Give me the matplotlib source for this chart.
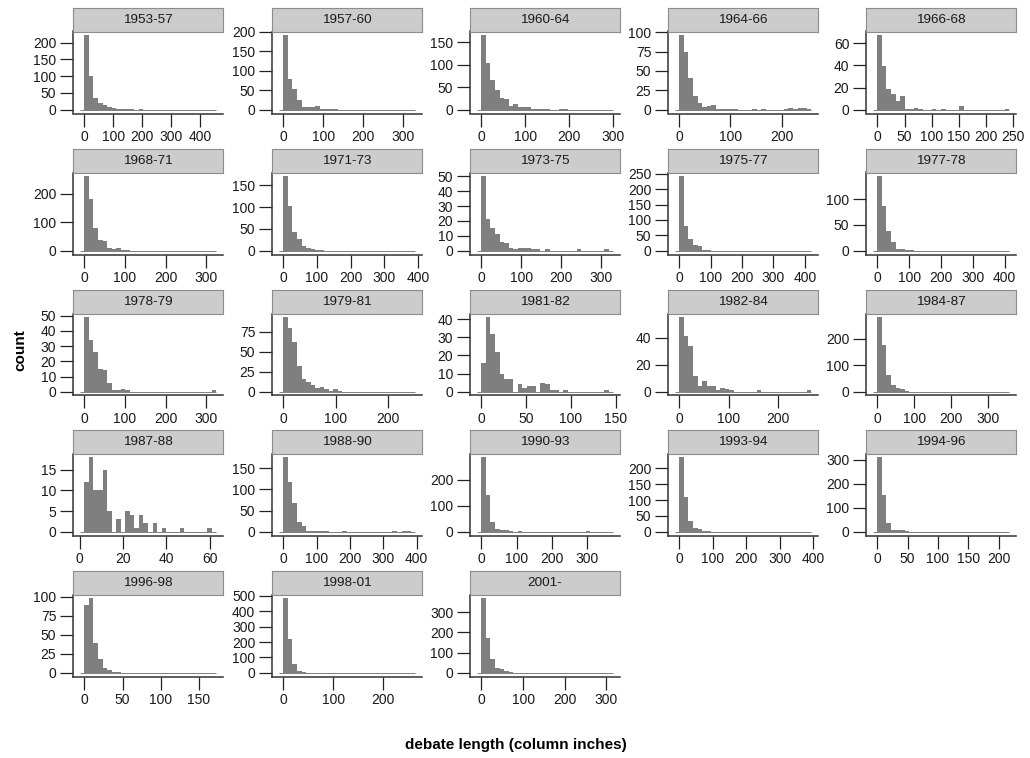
import numpy as np
import matplotlib
matplotlib.use("Agg")
import matplotlib.pyplot as plt

plt.rcParams['font.family'] = ['Liberation Sans', 'DejaVu Sans']

periods = ["1953-57", "1957-60", "1960-64", "1964-66", "1966-68",
           "1968-71", "1971-73", "1973-75", "1975-77", "1977-78",
           "1978-79", "1979-81", "1981-82", "1982-84", "1984-87",
           "1987-88", "1988-90", "1990-93", "1993-94", "1994-96",
           "1996-98", "1998-01", "2001-"]

# bin width (column inches) and left edge of the first bin for each period
bin_width = [15.7, 11.4, 10.34, 8.9, 8.36,
             11.2, 13.5, 11.4, 14.5, 14.3,
             11.2, 8.7, 5.08, 9.2, 12.3,
             2.1, 13.65, 12.9, 13.6, 7.5,
             5.95, 9.14, 10.9]
bin_start = [-15.7, -11.4, -10.34, -8.9, -8.36,
             -11.2, -13.5, -11.4, -14.5, -14.3,
             -11.2, -8.7, -5.08, -9.2, -12.3,
             0.0, -13.65, -12.9, -13.6, -7.5,
             -5.95, -9.14, -10.9]

# counts per bin (30 bins each)
c_1953_57 = [0, 222, 100, 36, 20, 14, 8, 4, 2, 1, 1, 1, 0, 1, 0, 0, 0, 0, 0, 0, 0, 0, 0, 0, 0, 0, 0, 0, 0, 0]
c_1957_60 = [0, 190, 78, 53, 25, 8, 7, 7, 10, 2, 1, 3, 1, 0, 0, 0, 0, 0, 0, 0, 0, 0, 0, 0, 0, 0, 0, 0, 0, 0]
c_1960_64 = [0, 166, 105, 66, 44, 26, 24, 9, 13, 7, 7, 7, 1, 2, 2, 1, 0, 0, 2, 1, 0, 0, 0, 0, 0, 0, 0, 0, 0, 0]
c_1964_66 = [0, 96, 75, 41, 18, 9, 3, 5, 6, 1, 1, 1, 1, 1, 0, 0, 0, 1, 0, 1, 0, 0, 0, 0, 1, 2, 1, 2, 2, 1]
c_1966_68 = [0, 67, 39, 19, 14, 8, 12, 1, 1, 2, 1, 0, 0, 1, 0, 1, 0, 0, 0, 3, 0, 0, 0, 0, 0, 0, 0, 0, 0, 1]
c_1968_71 = [0, 261, 183, 80, 38, 33, 10, 7, 9, 1, 1, 0, 0, 0, 0, 0, 0, 0, 0, 0, 0, 0, 0, 0, 0, 0, 0, 0, 0, 0]
c_1971_73 = [0, 171, 103, 44, 26, 10, 7, 4, 1, 1, 0, 0, 0, 0, 0, 0, 0, 0, 0, 0, 0, 0, 0, 0, 0, 0, 0, 0, 0, 0]
c_1973_75 = [0, 50, 21, 15, 11, 6, 5, 2, 1, 2, 2, 2, 1, 1, 0, 1, 0, 0, 0, 0, 0, 0, 1, 0, 0, 0, 0, 0, 1, 0]
c_1975_77 = [0, 242, 82, 37, 18, 15, 1, 1, 0, 0, 0, 0, 0, 0, 0, 0, 0, 0, 0, 0, 0, 0, 0, 0, 0, 0, 0, 0, 0, 0]
c_1977_78 = [0, 144, 87, 38, 17, 4, 4, 1, 2, 0, 0, 0, 0, 0, 0, 0, 0, 0, 0, 0, 0, 0, 0, 0, 0, 0, 0, 0, 0, 0]
c_1978_79 = [0, 49, 34, 26, 15, 14, 6, 1, 1, 2, 1, 0, 0, 0, 0, 0, 0, 0, 0, 0, 0, 0, 0, 0, 0, 0, 0, 0, 0, 1]
c_1979_81 = [0, 93, 79, 62, 32, 16, 12, 8, 5, 6, 4, 1, 3, 1, 0, 0, 0, 0, 0, 0, 0, 0, 0, 0, 0, 0, 0, 0, 0, 0]
c_1981_82 = [0, 16, 41, 32, 22, 10, 7, 7, 0, 4, 2, 3, 3, 0, 5, 4, 1, 1, 0, 1, 0, 0, 0, 0, 0, 0, 0, 0, 1, 0]
c_1982_84 = [0, 55, 41, 34, 12, 4, 8, 4, 4, 1, 3, 2, 1, 0, 0, 0, 0, 0, 1, 0, 0, 0, 0, 0, 0, 0, 0, 0, 0, 1]
c_1984_87 = [0, 280, 175, 63, 26, 14, 9, 2, 1, 0, 0, 0, 0, 0, 0, 0, 0, 0, 0, 0, 0, 0, 0, 0, 0, 0, 0, 0, 0, 0]
c_1987_88 = [0, 12, 18, 10, 10, 15, 5, 0, 3, 0, 5, 4, 1, 4, 2, 0, 2, 0, 1, 0, 0, 0, 1, 0, 0, 0, 0, 0, 1, 0]
c_1988_90 = [0, 176, 118, 67, 23, 14, 3, 2, 1, 1, 1, 0, 0, 0, 1, 0, 0, 0, 0, 0, 0, 0, 0, 0, 0, 1, 0, 1, 1, 0]
c_1990_93 = [0, 286, 140, 37, 11, 8, 5, 3, 0, 3, 1, 1, 0, 0, 0, 0, 0, 0, 0, 0, 0, 0, 0, 0, 3, 1, 1, 0, 0, 0]
c_1993_94 = [0, 235, 110, 33, 12, 9, 3, 1, 0, 0, 0, 0, 0, 0, 0, 0, 0, 0, 0, 0, 0, 0, 0, 0, 0, 0, 0, 0, 0, 0]
c_1994_96 = [0, 310, 152, 38, 8, 8, 6, 3, 1, 1, 0, 0, 0, 0, 0, 0, 0, 0, 0, 0, 0, 0, 0, 0, 0, 0, 0, 0, 0, 0]
c_1996_98 = [0, 89, 98, 39, 18, 6, 3, 1, 1, 0, 0, 0, 0, 0, 0, 0, 0, 0, 0, 0, 0, 0, 0, 0, 0, 0, 0, 0, 0, 0]
c_1998_01 = [0, 485, 217, 60, 11, 2, 1, 0, 0, 0, 0, 0, 0, 0, 0, 0, 0, 0, 0, 0, 0, 0, 0, 0, 0, 0, 0, 0, 0, 0]
c_2001 = [0, 369, 173, 67, 24, 19, 10, 2, 1, 0, 0, 0, 0, 0, 0, 0, 0, 0, 0, 0, 0, 0, 0, 0, 0, 0, 0, 0, 0, 0]

counts = [c_1953_57, c_1957_60, c_1960_64, c_1964_66, c_1966_68,
          c_1968_71, c_1971_73, c_1973_75, c_1975_77, c_1977_78,
          c_1978_79, c_1979_81, c_1981_82, c_1982_84, c_1984_87,
          c_1987_88, c_1988_90, c_1990_93, c_1993_94, c_1994_96,
          c_1996_98, c_1998_01, c_2001]

x_ticks = [[0, 100, 200, 300, 400], [0, 100, 200, 300], [0, 100, 200, 300], [0, 100, 200], [0, 50, 100, 150, 200, 250],
           [0, 100, 200, 300], [0, 100, 200, 300, 400], [0, 100, 200, 300], [0, 100, 200, 300, 400], [0, 100, 200, 300, 400],
           [0, 100, 200, 300], [0, 100, 200], [0, 50, 100, 150], [0, 100, 200], [0, 100, 200, 300],
           [0, 20, 40, 60], [0, 100, 200, 300, 400], [0, 100, 200, 300], [0, 100, 200, 300, 400], [0, 50, 100, 150, 200],
           [0, 50, 100, 150], [0, 100, 200], [0, 100, 200, 300]]
y_ticks = [[0, 50, 100, 150, 200], [0, 50, 100, 150, 200], [0, 50, 100, 150], [0, 25, 50, 75, 100], [0, 20, 40, 60],
           [0, 100, 200], [0, 50, 100, 150], [0, 10, 20, 30, 40, 50], [0, 50, 100, 150, 200, 250], [0, 50, 100],
           [0, 10, 20, 30, 40, 50], [0, 25, 50, 75], [0, 10, 20, 30, 40], [0, 20, 40], [0, 100, 200],
           [0, 5, 10, 15], [0, 50, 100, 150], [0, 100, 200], [0, 50, 100, 150, 200], [0, 100, 200, 300],
           [0, 25, 50, 75, 100], [0, 100, 200, 300, 400, 500], [0, 100, 200, 300]]

W, H = 1030, 758
fig = plt.figure(figsize=(W / 100, H / 100), dpi=100)

col_left = [73, 272, 470, 668, 866]
row_top = [8, 149, 290, 430, 571]
panel_w = 150
strip_h = 23.5
panel_h = 82

bar_color = '#7F7F7F'
axis_color = '#333333'
text_color = '#1A1A1A'

for k, name in enumerate(periods):
    r, c = divmod(k, 5)
    L = col_left[c]
    st = row_top[r]
    ptop = st + strip_h
    pbot = ptop + panel_h
    ax = fig.add_axes([L / W, 1 - pbot / H, panel_w / W, panel_h / H])
    cnt = np.array(counts[k], dtype=float)
    edges = bin_start[k] + bin_width[k] * np.arange(len(cnt) + 1)
    ax.stairs(cnt, edges, fill=True, color=bar_color, lw=0)
    ax.hlines(0, edges[0], edges[-1], color=bar_color, lw=0.7)
    lo, hi = edges[0], edges[-1]
    span = hi - lo
    ax.set_xlim(lo - 0.05 * span, hi + 0.05 * span)
    ymax = cnt.max()
    ax.set_ylim(-0.05 * ymax, 1.05 * ymax)
    ax.set_xticks(x_ticks[k])
    ax.set_yticks(y_ticks[k])
    for s in ['top', 'right']:
        ax.spines[s].set_visible(False)
    for s in ['left', 'bottom']:
        ax.spines[s].set_color(axis_color)
        ax.spines[s].set_linewidth(1.1)
    ax.tick_params(direction='out', length=9.5, width=0.9, color='#222222',
                   labelsize=10, labelcolor=text_color, pad=2.5)
    ax.set_facecolor('white')

    sax = fig.add_axes([L / W, 1 - ptop / H, panel_w / W, strip_h / H])
    sax.set_facecolor('#CCCCCC')
    sax.set_xticks([])
    sax.set_yticks([])
    for s in sax.spines.values():
        s.set_color('#8C8C8C')
        s.set_linewidth(0.8)
    sax.text(0.5, 0.5, name, ha='center', va='center', fontsize=9.7,
             color=text_color, transform=sax.transAxes)

fig.text(516 / W, 1 - 745 / H, "debate length (column inches)", ha='center', va='center',
         fontsize=11, fontweight='bold', color='black')
fig.text(20 / W, 1 - 350 / H, "count", ha='center', va='center', rotation=90,
         fontsize=11, fontweight='bold', color='black')

fig.savefig("out.png", dpi=100)
